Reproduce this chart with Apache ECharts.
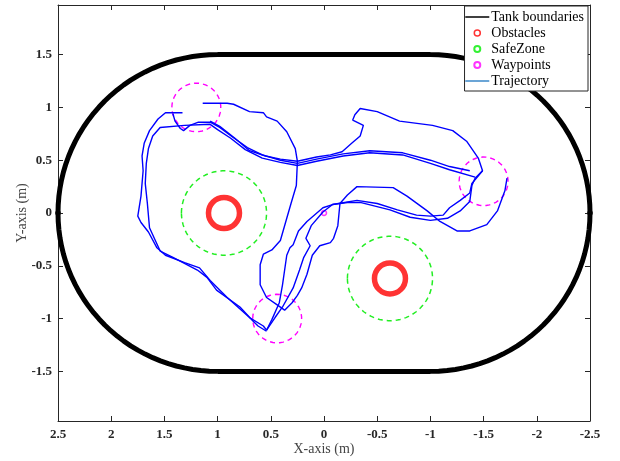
<!DOCTYPE html>
<html>
<head>
<meta charset="utf-8">
<title>Trajectory</title>
<script src="https://cdn.jsdelivr.net/npm/echarts@6/dist/echarts.min.js"></script>
<style>
html,body{margin:0;padding:0;background:#fff;overflow:hidden;}
#main{width:620px;height:461px;}
</style>
</head>
<body>
<div id="main"></div>
<script>
// 刻度
var xTicks=[2.5,2,1.5,1,0.5,0,-0.5,-1,-1.5,-2,-2.5];
var yTicks=[-1.5,-1,-0.5,0,0.5,1,1.5];
// 水池边界: 两个半圆圆心的x, 半径
var tankCenters=[1,-1];
var tankRadius=1.5;
var tankEnds=[[2.5,0],[-2.5,0]];
// 障碍物和安全区
var obstacles=[[0.94,0],[-0.62,-0.62]];
var safeRadius=0.4;
// 航点
var waypoints=[[1.2,1.0],[-1.5,0.3],[0.44,-1.0]];
var waypointRadius=0.23;
var startPoint=[[0,0]];
// 轨迹 (分段)
var trajA=[[1.14,1.04],[0.91,1.04],[0.85,1.03],[0.70,0.96],[0.57,0.95],[0.54,0.91],[0.44,0.87],[0.35,0.77],[0.27,0.61],[0.25,0.49],[0.26,0.26],[0.31,0.09],[0.35,-0.05],[0.41,-0.26],[0.49,-0.35],[0.57,-0.39],[0.60,-0.49],[0.60,-0.68],[0.54,-0.80],[0.44,-0.87],[0.37,-0.92],[0.30,-0.85],[0.25,-0.78],[0.21,-0.71],[0.16,-0.58],[0.11,-0.40],[0.04,-0.31],[-0.06,-0.28],[-0.09,-0.24],[-0.13,-0.12],[-0.15,0.09],[-0.22,0.17],[-0.31,0.25],[-0.65,0.24],[-0.78,0.16],[-0.97,0.02],[-1.09,-0.08],[-1.25,-0.17],[-1.37,-0.17],[-1.53,-0.11],[-1.63,0.02],[-1.70,0.21],[-1.72,0.33]];
var trajB=[[1.33,0.95],[1.49,0.95],[1.56,0.89],[1.64,0.78],[1.69,0.66],[1.71,0.54],[1.70,0.40],[1.72,0.16],[1.75,-0.03],[1.72,-0.09],[1.65,-0.18],[1.57,-0.33],[1.49,-0.40],[1.31,-0.47],[1.17,-0.52],[1.07,-0.64],[0.91,-0.80],[0.70,-0.99],[0.57,-1.07],[0.54,-1.11],[0.46,-0.99],[0.39,-0.89],[0.29,-0.71],[0.23,-0.54],[0.19,-0.42],[0.13,-0.31],[0.17,-0.24],[0.12,-0.12],[0.01,0.01],[-0.08,0.08],[-0.31,0.12],[-0.50,0.09],[-0.69,0.03],[-0.87,-0.02],[-1.00,-0.03],[-1.12,-0.02],[-1.18,0.05],[-1.28,0.12],[-1.37,0.19],[-1.39,0.28],[-1.49,0.40]];
var trajC=[[-1.37,0.40],[-1.18,0.44],[-1.00,0.50],[-0.74,0.57],[-0.43,0.59],[-0.18,0.56],[0.07,0.51],[0.25,0.47],[0.41,0.50],[0.58,0.55],[0.72,0.62],[0.86,0.72],[0.98,0.81],[1.07,0.86],[1.18,0.86],[1.26,0.83],[1.32,0.78],[1.35,0.80],[1.40,0.87],[1.42,0.94]];
var trajD=[[-1.42,0.34],[-1.18,0.41],[-1.00,0.47],[-0.74,0.55],[-0.43,0.57],[-0.18,0.54],[0.07,0.49],[0.25,0.45],[0.41,0.48],[0.58,0.52],[0.74,0.60],[0.88,0.71],[1.00,0.79],[1.07,0.84],[1.31,0.83],[1.54,0.81],[1.61,0.73],[1.65,0.61],[1.67,0.47],[1.68,0.28],[1.66,0.09],[1.64,-0.14],[1.54,-0.36],[1.42,-0.42],[1.19,-0.54],[1.10,-0.61],[1.01,-0.73],[0.79,-0.89],[0.67,-1.02],[0.62,-1.07],[0.54,-1.12]];
var trajE=[[1.07,0.87],[0.98,0.82],[0.84,0.71],[0.70,0.59],[0.55,0.54],[0.41,0.51],[0.25,0.49],[0.07,0.53],[-0.06,0.55],[-0.17,0.58],[-0.26,0.66],[-0.34,0.73],[-0.37,0.83],[-0.27,0.88],[-0.29,0.93],[-0.34,0.99],[-0.50,0.96],[-0.71,0.87],[-1.02,0.83],[-1.21,0.78],[-1.34,0.68],[-1.45,0.52],[-1.49,0.40],[-1.42,0.33],[-1.39,0.26],[-1.37,0.11],[-1.28,0.02],[-1.16,-0.05],[-1.00,-0.07],[-0.81,-0.04],[-0.62,0.03],[-0.34,0.10],[-0.22,0.10],[-0.08,0.08],[0.01,0.05],[0.16,-0.08],[0.24,-0.17],[0.29,-0.30],[0.32,-0.33],[0.35,-0.40],[0.39,-0.68],[0.42,-0.85],[0.49,-1.01],[0.54,-1.11]];
var trajList=[trajA,trajB,trajC,trajD,trajE];

// 圆 -> 折线点
function circle(cx,cy,r){
	var pts=[];
	for(var i=0;i<=90;i++){
		var t=i/90*Math.PI*2;
		pts.push([cx+r*Math.cos(t),cy+r*Math.sin(t)]);
	}
	return pts;
}
// 跑道形边界
function tank(){
	var pts=[];
	for(var i=0;i<=60;i++){
		var t=-Math.PI/2+i/60*Math.PI;
		pts.push([tankCenters[0]+tankRadius*Math.cos(t),tankRadius*Math.sin(t)]);
	}
	for(var j=0;j<=60;j++){
		var s=Math.PI/2+j/60*Math.PI;
		pts.push([tankCenters[1]+tankRadius*Math.cos(s),tankRadius*Math.sin(s)]);
	}
	pts.push(pts[0]);
	return pts;
}

var serif='Liberation Serif';
var series=[];
series.push({name:'Tank boundaries',type:'line',data:tank(),symbol:'none',lineStyle:{color:'#000',width:5},itemStyle:{color:'#000'}});
series.push({name:'tankEnds',type:'scatter',data:tankEnds,symbol:'circle',symbolSize:5,itemStyle:{color:'#fff',borderColor:'#000',borderWidth:1}});
series.push({name:'Obstacles',type:'scatter',data:obstacles,symbol:'circle',symbolSize:31,itemStyle:{color:'rgba(0,0,0,0)',borderColor:'#ff0000',borderWidth:5.5}});
series.push({name:'SafeZone',type:'scatter',data:obstacles,symbol:'circle',symbolSize:0,itemStyle:{color:'#fff',borderColor:'#00ee00',borderWidth:1.5}});
obstacles.forEach(function(o){
	series.push({name:'SafeZone',type:'line',data:circle(o[0],o[1],safeRadius),symbol:'none',lineStyle:{color:'#22ee22',width:1.5,type:[5,4]}});
});
series.push({name:'Waypoints',type:'scatter',data:startPoint,symbol:'circle',symbolSize:5,itemStyle:{color:'#fff',borderColor:'#ff00ff',borderWidth:1.5}});
waypoints.forEach(function(w){
	series.push({name:'Waypoints',type:'line',data:circle(w[0],w[1],waypointRadius),symbol:'none',lineStyle:{color:'#ff00ff',width:1.4,type:[5,4]}});
});
trajList.forEach(function(tr){
	series.push({name:'Trajectory',type:'line',data:tr,symbol:'none',lineStyle:{color:'#0000ff',width:1.4},itemStyle:{color:'#0000ff'}});
});
series.forEach(function(s){
	s.xAxisIndex=0;s.yAxisIndex=0;s.animation=false;s.silent=true;
});

var axisLine={show:true,onZero:false,lineStyle:{color:'#262626',width:1}};
var tickStyle={color:'#262626'};

var myChart=echarts.init(document.getElementById('main'),null,{width:620,height:461});
myChart.setOption({
	backgroundColor:'#fff',
	animation:false,
	grid:{left:58,right:30,top:5,bottom:37},
	legend:{
		orient:'vertical',right:32,top:6,
		backgroundColor:'#fff',borderColor:'#262626',borderWidth:1,borderRadius:0,
		padding:[3,4,2,0],itemWidth:24,itemHeight:6,itemGap:0,
		textStyle:{fontFamily:serif,fontSize:14,color:'#000',lineHeight:16,padding:[0,0,0,-3]},
		selectedMode:false,
		data:[
			{name:'Tank boundaries',itemStyle:{opacity:0},lineStyle:{width:1.5,color:'#000'}},
			{name:'Obstacles',itemStyle:{color:'#fff',borderColor:'#ff0000',borderWidth:1.5}},
			{name:'SafeZone'},
			{name:'Waypoints'},
			{name:'Trajectory',itemStyle:{opacity:0},lineStyle:{width:1.5,color:'#3a87c9'}}
		]
	},
	xAxis:[
		{type:'value',position:'bottom',min:-2.5,max:2.5,interval:0.5,inverse:true,
			axisLine:axisLine,splitLine:{show:false},
			axisTick:{show:true,inside:true,length:5,lineStyle:tickStyle},
			name:'X-axis (m)',nameLocation:'middle',nameGap:21,nameMoveOverlap:false,
			nameTextStyle:{fontFamily:serif,fontSize:14,color:'#444'},
			axisLabel:{show:true,margin:7,fontFamily:serif,fontSize:13,fontWeight:'bold',color:'#262626',showMinLabel:true,showMaxLabel:true}},
		{type:'value',position:'top',min:-2.5,max:2.5,interval:0.5,inverse:true,
			axisLine:axisLine,splitLine:{show:false},
			axisTick:{show:true,inside:true,length:5,lineStyle:tickStyle},
			axisLabel:{show:false}}
	],
	yAxis:[
		{type:'value',position:'left',min:-1.97,max:1.97,
			axisLine:axisLine,splitLine:{show:false},
			name:'Y-axis (m)',nameLocation:'middle',nameGap:29,nameMoveOverlap:false,
			nameTextStyle:{fontFamily:serif,fontSize:14,color:'#444'},
			axisTick:{show:true,inside:true,length:5,lineStyle:tickStyle,customValues:yTicks},
			axisLabel:{show:true,margin:6,fontFamily:serif,fontSize:13,fontWeight:'bold',color:'#262626',customValues:yTicks}},
		{type:'value',position:'right',min:-1.97,max:1.97,
			axisLine:axisLine,splitLine:{show:false},
			axisTick:{show:true,inside:true,length:5,lineStyle:tickStyle,customValues:yTicks},
			axisLabel:{show:false}}
	],
	series:series
});
</script>
</body>
</html>
